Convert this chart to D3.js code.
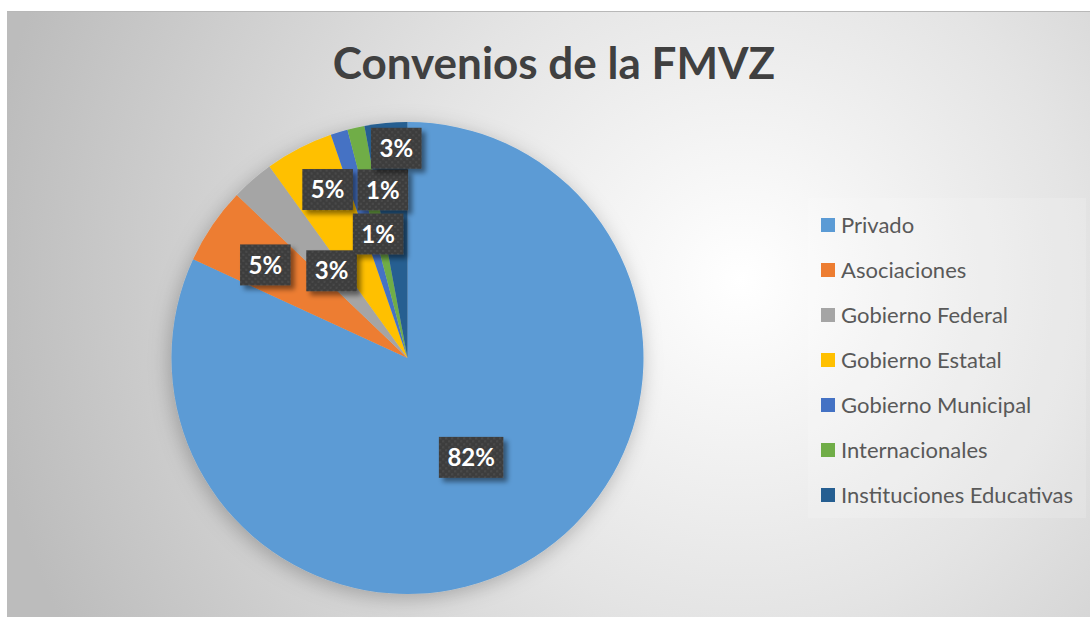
<!DOCTYPE html>
<html>
<head>
<meta charset="utf-8">
<script src="https://cdn.jsdelivr.net/npm/d3@7"></script>
<style>
	body { margin: 0 ; background: #ffffff ; }
	svg { display: block ; }
</style>
</head>
<body>
<svg id="chart" width="1090" height="618"></svg>
<script>
'use strict' ;

// data
const title = "Convenios de la FMVZ" ;
const categories = [ "Privado", "Asociaciones", "Gobierno Federal", "Gobierno Estatal", "Gobierno Municipal", "Internacionales", "Instituciones Educativas" ] ;
const counts = [ 140, 9, 5, 8, 2, 2, 5 ] ;
const percentLabels = [ "82%", "5%", "3%", "5%", "1%", "1%", "3%" ] ;
const colours = [ "#5B9BD5", "#ED7D31", "#A5A5A5", "#FFC000", "#4472C4", "#70AD47", "#255E91" ] ;

// label placement nudges (best fit, like the spreadsheet did it)
const labelRadius = [ 0.5, 0.72, 0.49, 0.79, 0.72, 0.54, 0.89 ] ;
const labelTurn = [ 0, -1, 0, 2, 8.5, -0.7, 2.2 ] ;

let geom = {
	width: 1090,
	height: 618,
	area: { x: 7, y: 11, width: 1083, height: 606 },
	pie: { cx: 407.5, cy: 358, r: 236 },
	legend: { x: 821, top: 225, step: 45, swatch: 14 }
} ;

let svg = d3.select( "#chart" ) ;
let defs = svg.append( "defs" ) ;

{
	let g = defs.append( "radialGradient" )
		.attr( "id", "bg" )
		.attr( "gradientUnits", "userSpaceOnUse" )
		.attr( "cx", 740 ).attr( "cy", 280 ).attr( "r", 760 ) ;
	g.append( "stop" ).attr( "offset", "0" ).attr( "stop-color", "#ffffff" ) ;
	g.append( "stop" ).attr( "offset", "0.45" ).attr( "stop-color", "#e4e4e4" ) ;
	g.append( "stop" ).attr( "offset", "1" ).attr( "stop-color", "#bcbcbc" ) ;

	let sh = defs.append( "filter" ).attr( "id", "pieShadow" )
		.attr( "x", "-20%" ).attr( "y", "-20%" ).attr( "width", "140%" ).attr( "height", "140%" ) ;
	sh.append( "feDropShadow" )
		.attr( "dx", -2 ).attr( "dy", 4 ).attr( "stdDeviation", 10 )
		.attr( "flood-color", "#000" ).attr( "flood-opacity", 0.25 ) ;

	let lsh = defs.append( "filter" ).attr( "id", "boxShadow" )
		.attr( "x", "-30%" ).attr( "y", "-30%" ).attr( "width", "170%" ).attr( "height", "170%" ) ;
	lsh.append( "feDropShadow" )
		.attr( "dx", 4 ).attr( "dy", 4 ).attr( "stdDeviation", 2.5 )
		.attr( "flood-color", "#000" ).attr( "flood-opacity", 0.45 ) ;

	let pat = defs.append( "pattern" ).attr( "id", "dots" )
		.attr( "patternUnits", "userSpaceOnUse" )
		.attr( "width", 6 ).attr( "height", 6 ) ;
	pat.append( "rect" ).attr( "width", 6 ).attr( "height", 6 ).attr( "fill", "#3e3e3e" ) ;
	pat.append( "rect" ).attr( "x", 1 ).attr( "y", 1 ).attr( "width", 2 ).attr( "height", 2 ).attr( "fill", "#4a4a4a" ) ;
	pat.append( "rect" ).attr( "x", 4 ).attr( "y", 4 ).attr( "width", 2 ).attr( "height", 2 ).attr( "fill", "#4a4a4a" ) ;
}

// chart area
svg.append( "rect" )
	.attr( "x", geom.area.x ).attr( "y", geom.area.y )
	.attr( "width", geom.area.width ).attr( "height", geom.area.height )
	.attr( "fill", "url(#bg)" ) ;
svg.append( "line" )
	.attr( "x1", geom.area.x ).attr( "x2", geom.width )
	.attr( "y1", geom.area.y + 0.5 ).attr( "y2", geom.area.y + 0.5 )
	.attr( "stroke", "#b8b8b8" ) ;

svg.append( "text" )
	.attr( "x", 554 ).attr( "y", 79 )
	.attr( "text-anchor", "middle" )
	.attr( "font-family", "Lato, 'Open Sans', sans-serif" )
	.attr( "font-weight", "bold" )
	.attr( "font-size", "44px" )
	.attr( "fill", "#404040" )
	.text( title ) ;

// pie
let pie = d3.pie().sort( null ).value( d => d ) ;
let arcs = pie( counts ) ;
let arc = d3.arc().innerRadius( 0 ).outerRadius( geom.pie.r ) ;

let pieG = svg.append( "g" )
	.attr( "transform", "translate(" + geom.pie.cx + "," + geom.pie.cy + ")" ) ;

pieG.append( "g" )
	.attr( "filter", "url(#pieShadow)" )
	.selectAll( "path" )
	.data( arcs )
	.enter()
	.append( "path" )
	.attr( "d", arc )
	.attr( "fill", ( d, i ) => colours[i] ) ;

// data labels
{
	let labels = pieG.selectAll( "g.label" )
		.data( arcs )
		.enter()
		.append( "g" )
		.attr( "class", "label" )
		.attr( "transform", function( d, i ) {
			let a = ( d.startAngle + d.endAngle ) / 2 + labelTurn[i] * Math.PI / 180 ;
			let rr = geom.pie.r * labelRadius[i] ;
			return "translate(" + ( rr * Math.sin( a )) + "," + ( -rr * Math.cos( a )) + ")" ;
		} ) ;
	labels.each( function( d, i ) {
		let sel = d3.select( this ) ;
		let box = sel.append( "rect" ) ;
		let txt = sel.append( "text" )
			.attr( "text-anchor", "middle" )
			.attr( "dy", "0.36em" )
			.attr( "font-family", "Lato, 'Open Sans', sans-serif" )
			.attr( "font-weight", "bold" )
			.attr( "font-size", "24px" )
			.attr( "fill", "#ffffff" )
			.text( percentLabels[i] ) ;
		let w = txt.node().getComputedTextLength() + 17 ;
		let h = 41 ;
		box.attr( "x", -w / 2 ).attr( "y", -h / 2 )
			.attr( "width", w ).attr( "height", h )
			.attr( "fill", "url(#dots)" )
			.attr( "filter", "url(#boxShadow)" ) ;
	} ) ;
}

// legend
{
	let lg = geom.legend ;
	svg.append( "rect" )
		.attr( "x", 808 ).attr( "y", 198 )
		.attr( "width", 278 ).attr( "height", 320 )
		.attr( "fill", "#ffffff" ).attr( "fill-opacity", 0.15 ) ;
	let y = d3.scalePoint()
		.domain( categories )
		.range( [ lg.top, lg.top + lg.step * ( categories.length - 1 ) ] ) ;
	let items = svg.selectAll( "g.legend" )
		.data( categories )
		.enter()
		.append( "g" )
		.attr( "class", "legend" )
		.attr( "transform", d => "translate(" + lg.x + "," + y( d ) + ")" ) ;
	items.append( "rect" )
		.attr( "x", 0 ).attr( "y", -lg.swatch / 2 )
		.attr( "width", lg.swatch ).attr( "height", lg.swatch )
		.attr( "fill", ( d, i ) => colours[i] ) ;
	items.append( "text" )
		.attr( "x", 20 ).attr( "y", 0 )
		.attr( "dy", "0.36em" )
		.attr( "font-family", "Lato, 'Open Sans', sans-serif" )
		.attr( "font-size", "22px" )
		.attr( "fill", "#595959" )
		.text( d => d ) ;
}
</script>
</body>
</html>
